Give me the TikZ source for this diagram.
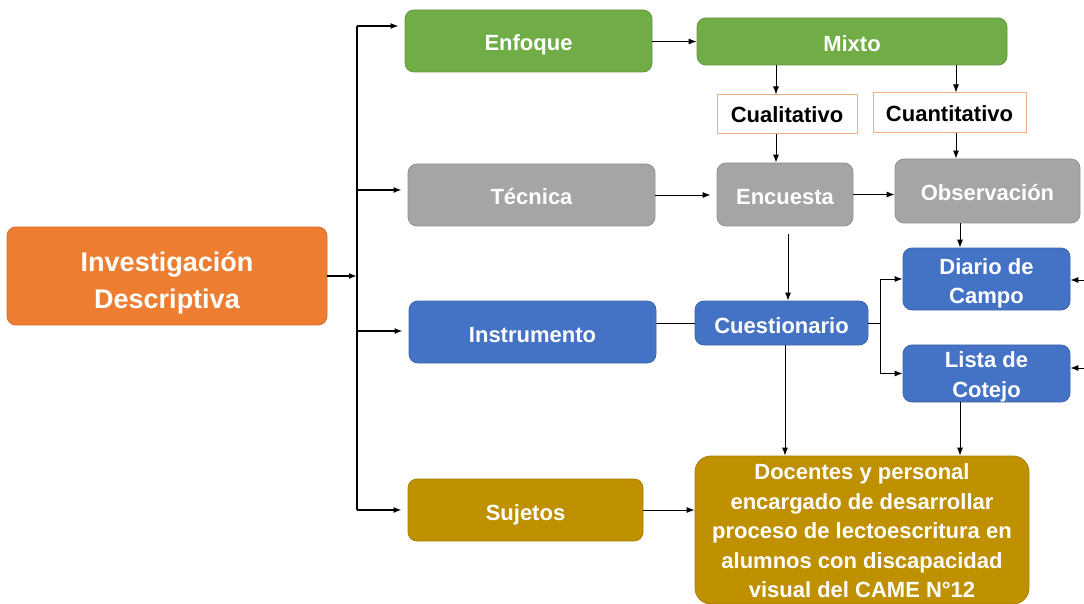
\documentclass[tikz,border=0pt]{standalone}
\usepackage{fontspec}
\setmainfont{Liberation Sans}
\usetikzlibrary{arrows.meta}
\definecolor{corange}{HTML}{ED7D31}
\definecolor{cgreen}{HTML}{70AD47}
\definecolor{cgray}{HTML}{A5A5A5}
\definecolor{cblue}{HTML}{4472C4}
\definecolor{cgold}{HTML}{BF9000}
\definecolor{clight}{HTML}{F4B183}
\tikzset{
  box/.style={rounded corners=9pt, draw=#1!88!black, line width=0.8pt, fill=#1,
    text=white, font=\bfseries\fontsize{22}{29.5}\selectfont, align=center, inner sep=0pt},
  single/.style={text height=20pt, text depth=0pt},
  tagbox/.style={draw=clight, line width=1pt, fill=white, text=black,
    font=\bfseries\fontsize{22}{28}\selectfont, inner sep=0pt, text height=16.5pt, text depth=0pt},
  arr/.style={-{Latex[length=8pt,width=6pt]}, line width=0.9pt},
  link/.style={line width=0.9pt},
  bus/.style={line width=1.8pt},
}
\begin{document}
\begin{tikzpicture}[x=1pt,y=-1pt]
\useasboundingbox (0,0) rectangle (1084,604);
% nodes
\node[box=corange, minimum width=320pt, minimum height=98pt, font=\bfseries\fontsize{27}{37}\selectfont] (inv) at (167,276) {\rule{0pt}{33pt}Investigación\\Descriptiva};
\node[box=cgreen, single, minimum width=247pt, minimum height=62pt] (enf) at (528.5,41) {Enfoque};
\node[box=cgreen, single, minimum width=310pt, minimum height=47pt] (mix) at (852,41.5) {Mixto};
\node[tagbox, minimum width=140pt, minimum height=39pt] (cual) at (787,114.5) {Cualitativo};
\node[tagbox, minimum width=153pt, minimum height=40pt] (cuan) at (949.5,113) {Cuantitativo};
\node[box=cgray, single, minimum width=247pt, minimum height=62pt] (tec) at (531.5,195) {Técnica};
\node[box=cgray, single, minimum width=136pt, minimum height=63pt] (enc) at (785,194.5) {Encuesta};
\node[box=cgray, single, minimum width=185pt, minimum height=64pt] (obs) at (987.5,191) {Observación};
\node[box=cblue, minimum width=167pt, minimum height=62pt] (dia) at (986.5,279) {\rule{0pt}{25pt}Diario de\\Campo};
\node[box=cblue, minimum width=167pt, minimum height=53pt] (lis) at (986.5,373.5) {\rule{0pt}{23pt}Lista de\\Cotejo};
\node[box=cblue, single, minimum width=247pt, minimum height=62pt] (ins) at (532.5,332) {Instrumento};
\node[box=cblue, single, minimum width=173pt, minimum height=44pt] (cue) at (781.5,323) {Cuestionario};
\node[box=cgold, single, minimum width=235pt, minimum height=62pt] (suj) at (525.5,510) {Sujetos};
\node[box=cgold, minimum width=334pt, minimum height=148pt, rounded corners=16pt] (doc) at (862,530) {\rule{0pt}{18pt}Docentes y personal\\encargado de desarrollar\\proceso de lectoescritura en\\alumnos con discapacidad\\visual del CAME N°12};
% helper coordinates
\coordinate (busm) at (357,276);
\coordinate (bust) at (357,26);
\coordinate (b2) at (357,190);
\coordinate (b3) at (357,331);
\coordinate (busb) at (357,510);
\coordinate (xc) at (776,0);
\coordinate (xq) at (956,0);
\coordinate (xe) at (788,0);
\coordinate (xd) at (785,0);
\coordinate (xo) at (960,0);
\coordinate (cj) at (880,323);
\coordinate (r1) at (1084,280);
\coordinate (r2) at (1084,368);
% main bus
\draw[arr,bus] (inv.east) -- (busm);
\draw[bus] (bust) -- (busb);
\draw[arr,bus,shorten >=6pt] (bust) -- (bust -| enf.west);
\draw[arr,bus,shorten >=6pt] (b2) -- (b2 -| tec.west);
\draw[arr,bus,shorten >=6pt] (b3) -- (b3 -| ins.west);
\draw[arr,bus,shorten >=6pt] (busb) -- (busb -| suj.west);
% enfoque branch
\draw[arr] (enf.east |- mix.west) -- (mix.west);
\draw[arr] (mix.south -| xc) -- (cual.north -| xc);
\draw[arr] (mix.south -| xq) -- (cuan.north -| xq);
\draw[arr] (cual.south -| xc) -- (enc.north -| xc);
\draw[arr] (cuan.south -| xq) -- (obs.north -| xq);
% tecnica branch
\draw[arr,shorten >=6pt] (tec.east) -- (tec.east -| enc.west);
\draw[arr] (enc.east) -- (enc.east -| obs.west);
\draw[arr,shorten <=8pt] (enc.south -| xe) -- (cue.north -| xe);
\draw[arr] (obs.south -| xo) -- (dia.north -| xo);
% instrumento branch
\draw[link] (cue.west -| ins.east) -- (cue.west);
\draw[link] (cue.east) -- (cj);
\draw[link] (cj |- dia.west) -- (cj |- lis.west);
\draw[arr] (cj |- dia.west) -- (dia.west);
\draw[arr] (cj |- lis.west) -- (lis.west);
\draw[arr] (r1) -- (r1 -| dia.east);
\draw[arr] (r2) -- (r2 -| lis.east);
% sujetos
\draw[arr] (cue.south -| xd) -- (doc.north -| xd);
\draw[arr] (lis.south -| xo) -- (doc.north -| xo);
\draw[arr] (suj.east) -- (suj.east -| doc.west);
\end{tikzpicture}
\end{document}
